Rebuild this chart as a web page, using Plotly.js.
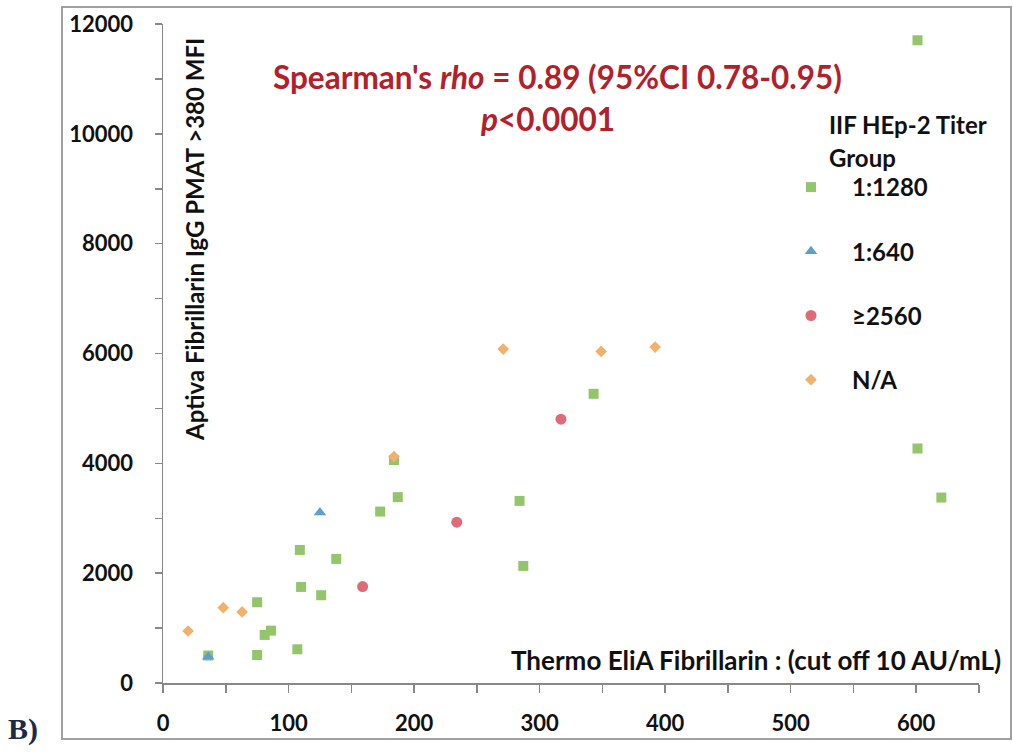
<!DOCTYPE html>
<html>
<head>
<meta charset="utf-8">
<script src="https://cdn.plot.ly/plotly-3.0.1.min.js"></script>
<style>html,body{margin:0;padding:0;background:#fff;}#chart{width:1013px;height:755px;}</style>
</head>
<body>
<div id="chart"></div>
<script>
// Thermo EliA Fibrillarin (AU/mL) vs Aptiva Fibrillarin IgG PMAT (MFI), by IIF HEp-2 titer group
const groupNames = ["1:1280", "1:640", "\u22652560", "N/A"];

const x_1280 = [36, 75, 75, 81, 86, 107, 109, 110, 126, 138, 173, 187, 184, 284, 287, 343, 601, 620, 601];
const y_1280 = [500, 510, 1470, 875, 953, 614, 2423, 1749, 1598, 2259, 3122, 3384, 4060, 3316, 2132, 5266, 4270, 3377, 11704];

const x_640 = [36, 125];
const y_640 = [480, 3103];

const x_2560 = [159, 234, 317];
const y_2560 = [1755, 2928, 4805];

const x_na = [20, 48, 63, 184, 271, 349, 392];
const y_na = [947, 1372, 1294, 4124, 6081, 6037, 6117];

const xTickVals = [0, 100, 200, 300, 400, 500, 600];
const xTickText = ["0", "100", "200", "300", "400", "500", "600"];
const yTickVals = [0, 2000, 4000, 6000, 8000, 10000, 12000];
const yTickText = ["0", "2000", "4000", "6000", "8000", "10000", "12000"];

const FONT = "Lato, 'Open Sans', sans-serif";

const traces = [
  {x: x_1280, y: y_1280, name: groupNames[0], legendgroup: "g1", mode: "markers", type: "scatter",
   marker: {symbol: "square", size: 10, color: "#93c66a"}},
  {x: x_640, y: y_640, name: groupNames[1], legendgroup: "g2", mode: "markers", type: "scatter",
   marker: {symbol: "triangle-up", size: 11, color: "#5d9fd0"}},
  {x: x_2560, y: y_2560, name: groupNames[2], legendgroup: "g3", mode: "markers", type: "scatter",
   marker: {symbol: "circle", size: 11, color: "#de6b78"}},
  {x: x_na, y: y_na, name: groupNames[3], legendgroup: "g4", mode: "markers", type: "scatter",
   marker: {symbol: "diamond", size: 9, color: "#f3b06a"}}
];

const L = 163, R = 979, T = 24, B = 683;
const px = v => (v - L) / (R - L);
const py = v => (B - v) / (B - T);

const layout = {
  width: 1013, height: 755,
  margin: {l: L, r: 1013 - R, t: T, b: 755 - B},
  paper_bgcolor: "#ffffff", plot_bgcolor: "#ffffff",
  font: {family: FONT, color: "#111111"},
  showlegend: true,
  legend: {
    x: px(770), y: py(165), xanchor: "left", yanchor: "top",
    font: {family: FONT, size: 24, weight: "bold", color: "#111"},
    itemwidth: 72,
    tracegroupgap: 30, bgcolor: "rgba(0,0,0,0)"
  },
  xaxis: {
    range: [0, 650], tickvals: xTickVals, ticktext: xTickText, ticks: "outside", ticklen: 8, tickwidth: 1.5, tickcolor: "#888",
    showline: true, linecolor: "#888", linewidth: 1.5, showgrid: false, zeroline: false,
    tickfont: {family: FONT, size: 22, weight: "bold", color: "#111"}, ticklabelstandoff: 12,
    minor: {dtick: 50, tick0: 0, ticks: "outside", ticklen: 8, tickwidth: 1.5, tickcolor: "#888", showgrid: false}
  },
  yaxis: {
    range: [0, 12000], tickvals: yTickVals, ticktext: yTickText, ticks: "outside", ticklen: 7, tickwidth: 1.5, tickcolor: "#888",
    showline: true, linecolor: "#888", linewidth: 1.5, showgrid: false, zeroline: false,
    tickfont: {family: FONT, size: 22, weight: "bold", color: "#111"}, ticklabelstandoff: 17,
    minor: {dtick: 1000, tick0: 0, ticks: "outside", ticklen: 7, tickwidth: 1.5, tickcolor: "#888", showgrid: false}
  },
  shapes: [
    {type: "rect", xref: "paper", yref: "paper", x0: px(62), x1: px(1011), y0: py(739), y1: py(7),
     line: {color: "#a0a0a0", width: 2}, fillcolor: "rgba(0,0,0,0)", layer: "below"}
  ],
  annotations: [
    {xref: "paper", yref: "paper", x: px(557), y: py(77), xanchor: "center", yanchor: "middle", showarrow: false,
     text: "Spearman's <i>rho</i> = 0.89 (95%CI 0.78-0.95)", font: {family: FONT, size: 31.5, weight: "bold", color: "#b3202a"}},
    {xref: "paper", yref: "paper", x: px(547), y: py(119), xanchor: "center", yanchor: "middle", showarrow: false,
     text: "<i>p</i><0.0001", font: {family: FONT, size: 31.5, weight: "bold", color: "#b3202a"}},
    {xref: "paper", yref: "paper", x: px(827), y: py(124), xanchor: "left", yanchor: "middle", showarrow: false,
     text: "IIF HEp-2 Titer", font: {family: FONT, size: 24, weight: "bold", color: "#111"}},
    {xref: "paper", yref: "paper", x: px(827), y: py(157), xanchor: "left", yanchor: "middle", showarrow: false,
     text: "Group", font: {family: FONT, size: 24, weight: "bold", color: "#111"}},
    {xref: "paper", yref: "paper", x: px(195), y: py(240), xanchor: "center", yanchor: "middle", showarrow: false, textangle: -90,
     text: "Aptiva Fibrillarin IgG PMAT >380 MFI", font: {family: FONT, size: 24, weight: "bold", color: "#111"}},
    {xref: "paper", yref: "paper", x: px(1003), y: py(660), xanchor: "right", yanchor: "middle", showarrow: false,
     text: "Thermo EliA Fibrillarin : (cut off 10 AU/mL)", font: {family: FONT, size: 26, weight: "bold", color: "#111"}},
    {xref: "paper", yref: "paper", x: px(23), y: py(729), xanchor: "center", yanchor: "middle", showarrow: false,
     text: "B)", font: {family: "'Liberation Serif', 'DejaVu Serif', serif", size: 30, weight: "bold", color: "#1c2a48"}}
  ]
};

Plotly.newPlot("chart", traces, layout, {displayModeBar: false, staticPlot: true});
</script>
</body>
</html>
